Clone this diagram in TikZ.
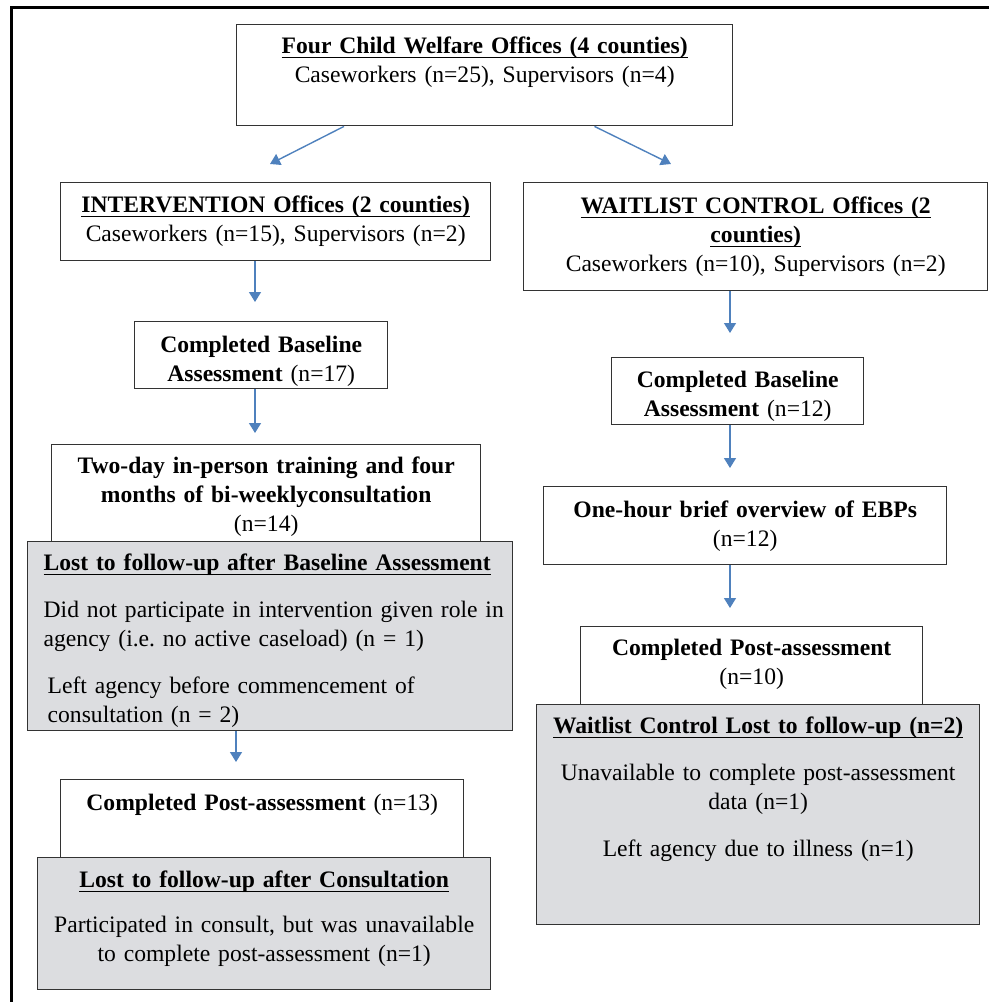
\documentclass[tikz,border=0pt]{standalone}
\usepackage{fontspec}
\setmainfont{Liberation Serif}
\usepackage{tikz}
\usetikzlibrary{arrows.meta}

\definecolor{boxgrey}{RGB}{220,221,224}
\definecolor{arrowblue}{RGB}{79,129,189}
\newcommand{\ulbox}[1]{\leavevmode\setbox0\hbox{#1}\rlap{\rule[-2.1pt]{\wd0}{0.5pt}}\box0}

\begin{document}
\begin{tikzpicture}[x=0.5pt, y=-0.5pt,
    box/.style={draw=black!80, line width=0.7pt, anchor=north west,
        inner xsep=4pt, inner ysep=0pt, align=center,
        font=\fontsize{11.8}{14.5}\selectfont},
    greybox/.style={box, fill=boxgrey},
    arr/.style={draw=arrowblue, line width=0.7pt,
        -{Triangle[width=6pt,length=5pt]}}]
        \useasboundingbox (0,0) rectangle (989,1002);

        % Cornice esterna
        \draw[line width=1.5pt] (11,1002) -- (11,7) -- (989,7);

        % Box in alto
        \node[box, minimum width=248pt, text width=240pt,
              text height=14.5pt, text depth=36pt] (top_offices) at (236,24) {
            \textbf{\ulbox{Four Child Welfare Offices (4 counties)}}\\
            Caseworkers (n=25), Supervisors (n=4)
        };

        % Colonna sinistra (intervento)
        \node[box, minimum width=215pt, text width=207pt,
              text height=15pt, text depth=24pt] (int_offices) at (60,182) {
            \textbf{\ulbox{INTERVENTION Offices (2 counties)}}\\
            Caseworkers (n=15), Supervisors (n=2)
        };
        \node[box, minimum width=126.5pt, text width=118.5pt,
              text height=15.5pt, text depth=18pt] (int_baseline) at (134,321) {
            \textbf{Completed Baseline}\\
            \textbf{Assessment} (n=17)
        };
        \node[box, minimum width=214.5pt, text width=206.5pt,
              text height=14.5pt, text depth=43.5pt] (int_training) at (51,444) {
            \textbf{Two-day in-person training and four}\\
            \textbf{months of bi-weeklyconsultation}\\
            (n=14)
        };
        \node[greybox, align=left, inner xsep=8pt, minimum width=242.5pt, text width=226.5pt,
              text height=14.5pt, text depth=80pt] (int_lost) at (27,541) {
            \textbf{\ulbox{Lost to follow-up after Baseline Assessment}}\\[9pt]
            \mbox{Did not participate in intervention given role in}\\
            agency (i.e.\ no active caseload) (n = 1)\\[9pt]
            \hspace*{2pt}Left agency before commencement of\\
            \hspace*{2pt}consultation (n = 2)
        };
        \node[box, minimum width=201.5pt, text width=193.5pt,
              text height=15.5pt, text depth=30pt] (int_post) at (60,779) {
            \textbf{Completed Post-assessment} (n=13)
        };
        \node[greybox, minimum width=226.5pt, text width=218.5pt,
              text height=15pt, text depth=51pt] (int_lost_post) at (37,857) {
            \textbf{\ulbox{Lost to follow-up after Consultation}}\\[8pt]
            Participated in consult, but was unavailable\\
            to complete post-assessment (n=1)
        };

        % Colonna destra (lista d'attesa)
        \node[box, minimum width=232pt, text width=224pt,
              text height=15.5pt, text depth=38.5pt] (wait_offices) at (523,182) {
            \textbf{\ulbox{WAITLIST CONTROL Offices (2}}\\
            \textbf{\ulbox{counties)}}\\
            Caseworkers (n=10), Supervisors (n=2)
        };
        \node[box, minimum width=126pt, text width=118pt,
              text height=15pt, text depth=18.5pt] (wait_baseline) at (611,357) {
            \textbf{Completed Baseline}\\
            \textbf{Assessment} (n=12)
        };
        \node[box, minimum width=201.5pt, text width=193.5pt,
              text height=15.5pt, text depth=23.5pt] (wait_overview) at (543,486) {
            \textbf{One-hour brief overview of EBPs}\\
            (n=12)
        };
        \node[box, minimum width=171pt, text width=163pt,
              text height=14.5pt, text depth=32.5pt] (wait_post) at (580,626) {
            \textbf{Completed Post-assessment}\\
            (n=10)
        };
        \node[greybox, minimum width=221.5pt, text width=213.5pt,
              text height=14.5pt, text depth=95.5pt] (wait_lost) at (536,704) {
            \textbf{\ulbox{Waitlist Control Lost to follow-up (n=2)}}\\[9pt]
            Unavailable to complete post-assessment\\
            data (n=1)\\[9pt]
            Left agency due to illness (n=1)
        };

        % Frecce
        \coordinate (tip_left) at (270,164);
        \coordinate (tip_right) at (671,164);
        \coordinate (col_left) at (255,0);
        \coordinate (col_lost) at (236,0);
        \coordinate (col_right) at (730,0);
        \draw[arr] (top_offices.200) -- (tip_left);
        \draw[arr] (top_offices.335) -- (tip_right);
        \draw[arr, shorten >=9.5pt] (int_offices.south -| col_left) -- (int_baseline.north -| col_left);
        \draw[arr, shorten >=5.5pt] (int_baseline.south -| col_left) -- (int_training.north -| col_left);
        \draw[arr, shorten >=8.5pt] (int_lost.south -| col_lost) -- (int_post.north -| col_lost);
        \draw[arr, shorten >=12pt] (wait_offices.south -| col_right) -- (wait_baseline.north -| col_right);
        \draw[arr, shorten >=9pt] (wait_baseline.south -| col_right) -- (wait_overview.north -| col_right);
        \draw[arr, shorten >=9pt] (wait_overview.south -| col_right) -- (wait_post.north -| col_right);
    \end{tikzpicture}
\end{document}
